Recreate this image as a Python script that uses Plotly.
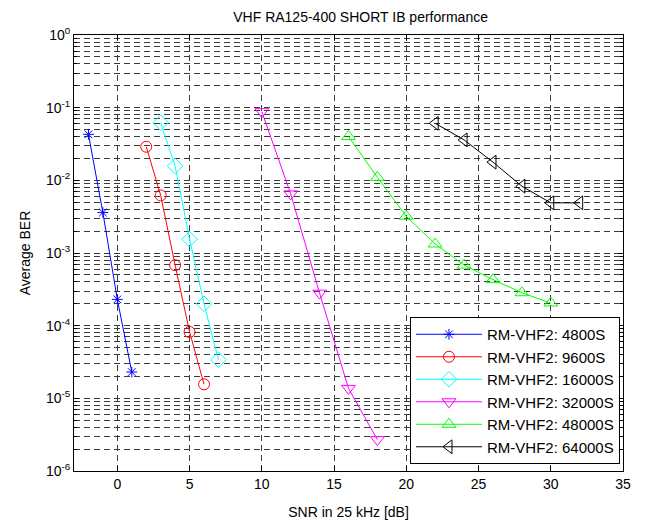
import plotly.graph_objects as go

title = "VHF RA125-400 SHORT IB performance"
x_label = "SNR in 25 kHz [dB]"
y_label = "Average BER"

names = ["RM-VHF2: 4800S", "RM-VHF2: 9600S", "RM-VHF2: 16000S",
         "RM-VHF2: 32000S", "RM-VHF2: 48000S", "RM-VHF2: 64000S"]

snr_4800 = [-2, -1, 0, 1]
ber_4800 = [4.3e-2, 3.6e-3, 2.3e-4, 2.3e-5]

snr_9600 = [2, 3, 4, 5, 6]
ber_9600 = [2.9e-2, 6.2e-3, 6.8e-4, 8.2e-5, 1.56e-5]

snr_16000 = [3, 4, 5, 6, 7]
ber_16000 = [6.2e-2, 1.57e-2, 1.55e-3, 2.0e-4, 3.4e-5]

snr_32000 = [10, 12, 14, 16, 18]
ber_32000 = [8.8e-2, 6.5e-3, 2.8e-4, 1.37e-5, 2.7e-6]

snr_48000 = [16, 18, 20, 22, 24, 26, 28, 30]
ber_48000 = [4.0e-2, 1.1e-2, 3.2e-3, 1.33e-3, 6.8e-4, 4.3e-4, 2.84e-4, 2.05e-4]

snr_64000 = [22, 24, 26, 28, 30, 32]
ber_64000 = [6.1e-2, 3.6e-2, 1.78e-2, 8.3e-3, 4.9e-3, 4.9e-3]

x_ticks = [0, 5, 10, 15, 20, 25, 30, 35]
y_exponents = [-6, -5, -4, -3, -2, -1, 0]

series = [
    (snr_4800, ber_4800, "#0000ff", "asterisk-open", 9),
    (snr_9600, ber_9600, "#ff0000", "circle-open", 11),
    (snr_16000, ber_16000, "#00ffff", "diamond-open", 12),
    (snr_32000, ber_32000, "#ff00ff", "triangle-down-open", 12),
    (snr_48000, ber_48000, "#00ff00", "triangle-up-open", 12),
    (snr_64000, ber_64000, "#000000", "triangle-left-open", 12),
]

fig = go.Figure()
for i, (xs, ys, col, sym, sz) in enumerate(series):
    fig.add_trace(go.Scatter(
        x=xs, y=ys, mode="lines+markers", name=names[i],
        legendgroup=f"g{i}",
        line=dict(color=col, width=1),
        marker=dict(symbol=sym, size=sz, color=col, line=dict(color=col, width=1)),
    ))

minor_vals = [m * 10.0 ** e for e in range(-6, 0) for m in range(2, 10)]
grid_col = "#3a3a3a"
dash = "6px,4px"

# page body adds an 8px offset; margins compensate so the plot area sits at
# x 74..623, y 35..471 on screen
fig.update_layout(
    width=647, height=521,
    margin=dict(l=66, r=32, t=27, b=58, autoexpand=False),
    paper_bgcolor="white", plot_bgcolor="white",
    font=dict(family="Liberation Sans, Arial, sans-serif", size=14, color="black"),
    title=dict(text=title, x=0.545, xanchor="center", y=0.982, yanchor="middle",
               font=dict(size=14)),
    showlegend=True,
    legend=dict(x=0.9945, xanchor="right", y=0.016, yanchor="bottom",
                bgcolor="white", bordercolor="black", borderwidth=1,
                font=dict(size=15), tracegroupgap=0, itemwidth=66),
)

fig.update_xaxes(
    range=[-3, 35], tickvals=x_ticks, ticktext=[str(v) for v in x_ticks],
    showline=True, linecolor="black", linewidth=1, mirror="ticks",
    ticks="inside", ticklen=5, tickcolor="black", tickfont=dict(size=14),
    showgrid=True, gridcolor=grid_col, gridwidth=1, griddash=dash,
    zeroline=False, automargin=False,
    title=dict(text=x_label, standoff=16, font=dict(size=14)),
)

fig.update_yaxes(
    type="log", range=[-6, 0],
    tickvals=[10.0 ** e for e in y_exponents],
    ticktext=[f"10<sup>{e}</sup>" for e in y_exponents],
    showline=True, linecolor="black", linewidth=1, mirror="ticks",
    ticks="inside", ticklen=5, tickcolor="black", tickfont=dict(size=14),
    showgrid=True, gridcolor=grid_col, gridwidth=1, griddash=dash,
    zeroline=False, automargin=False,
    minor=dict(tickvals=minor_vals, ticks="inside", ticklen=3, tickcolor="black",
               showgrid=True, gridcolor=grid_col, gridwidth=1, griddash=dash),
    title=dict(text=y_label, standoff=12, font=dict(size=14)),
)

fig.write_html("out.html")
